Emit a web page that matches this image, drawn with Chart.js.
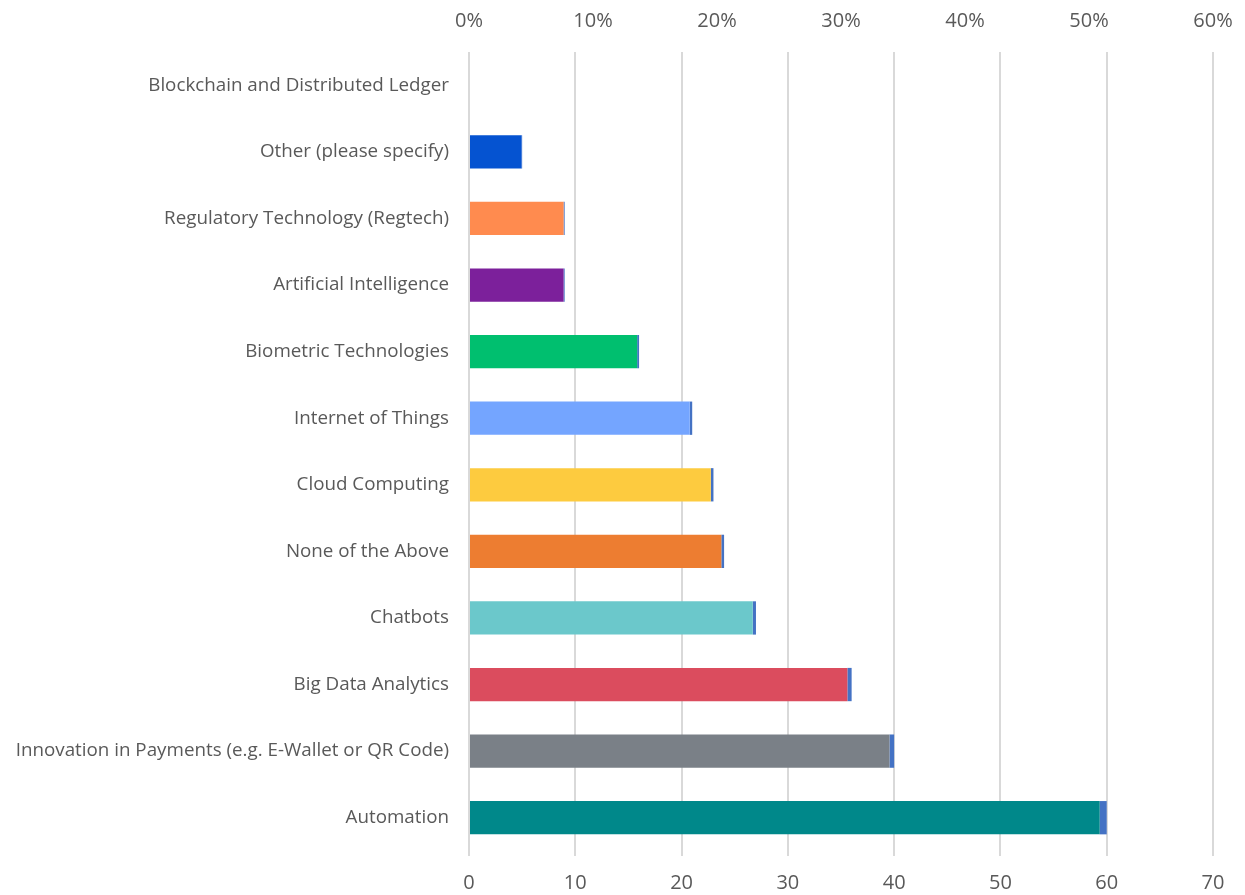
<!DOCTYPE html>
<html>
<head>
<meta charset="utf-8">
<script src="https://cdn.jsdelivr.net/npm/chart.js@4"></script>
<style>
  html, body { margin: 0; padding: 0; background: #fff; }
  #wrap { width: 1245px; height: 895px; }
</style>
</head>
<body>
<div id="wrap"><canvas id="tech-chart" width="1245" height="895"></canvas></div>
<script>
const categories = [
    'Blockchain and Distributed Ledger',
    'Other (please specify)',
    'Regulatory Technology (Regtech)',
    'Artificial Intelligence',
    'Biometric Technologies',
    'Internet of Things',
    'Cloud Computing',
    'None of the Above',
    'Chatbots',
    'Big Data Analytics',
    'Innovation in Payments (e.g. E-Wallet or QR Code)',
    'Automation'
];

// respondent counts (main bar)
const counts = [0, 4.95, 8.9, 8.9, 15.82, 20.77, 22.75, 23.74, 26.7, 35.6, 39.56, 59.34];

// share of respondents, stacked on the end of each bar
const shares = [0, 0.05, 0.1, 0.1, 0.18, 0.23, 0.25, 0.26, 0.3, 0.4, 0.44, 0.66];

const barColors = [
    '#4472C4', '#0553D1', '#FF8B4F', '#7C209B', '#00BF6F', '#74A5FF',
    '#FDCB3F', '#ED7D31', '#6BC8CB', '#DB4C5E', '#7A8087', '#00888A'
];

const countTicks = [0, 10, 20, 30, 40, 50, 60, 70];
const percentTicks = [0, 0.1, 0.2, 0.3, 0.4, 0.5, 0.6];

const labelColor = '#595959';
const gridColor = '#D9D9D9';

// keep the plot edges fixed instead of letting end labels push them in
function fixHorizontalAxis(height) {
    return (axis) => {
        axis.height = height;
        axis.paddingLeft = 0;
        axis.paddingRight = 0;
    };
}

new Chart(document.querySelector('#tech-chart').getContext('2d'), {
    type: 'bar',
    data: {
        labels: categories,
        datasets: [
            {
                label: 'Count',
                data: counts,
                backgroundColor: barColors,
                borderWidth: 0,
                barPercentage: 0.5,
                categoryPercentage: 1.0,
                xAxisID: 'x'
            },
            {
                label: 'Share',
                data: shares,
                backgroundColor: '#4472C4',
                borderWidth: 0,
                barPercentage: 0.5,
                categoryPercentage: 1.0,
                xAxisID: 'x'
            }
        ]
    },
    options: {
        indexAxis: 'y',
        responsive: false,
        animation: false,
        layout: { padding: { left: 0, right: 32, top: 0, bottom: 0 } },
        plugins: {
            legend: { display: false },
            tooltip: { enabled: false }
        },
        scales: {
            x: {
                position: 'bottom',
                stacked: true,
                min: 0,
                max: 70,
                afterBuildTicks: (axis) => { axis.ticks = countTicks.map(v => ({ value: v })); },
                grid: { color: gridColor, lineWidth: 2, drawTicks: true, tickLength: 5 },
                border: { display: false },
                ticks: {
                    color: labelColor,
                    font: { family: 'Open Sans', size: 20 },
                    padding: 15
                },
                afterFit: fixHorizontalAxis(44)
            },
            x2: {
                position: 'top',
                min: 0,
                max: 0.6,
                afterBuildTicks: (axis) => { axis.ticks = percentTicks.map(v => ({ value: v })); },
                grid: { display: false, drawTicks: false },
                border: { display: false },
                ticks: {
                    color: labelColor,
                    font: { family: 'Open Sans', size: 20 },
                    padding: 19,
                    callback: (v) => Math.round(v * 100) + '%'
                },
                afterFit: fixHorizontalAxis(52)
            },
            y: {
                stacked: true,
                grid: { display: false, drawTicks: false },
                border: { display: false },
                ticks: {
                    color: labelColor,
                    font: { family: 'Open Sans', size: 18.8 },
                    padding: 20
                },
                afterFit: (axis) => { axis.width = 469; }
            }
        }
    }
});
</script>
</body>
</html>
